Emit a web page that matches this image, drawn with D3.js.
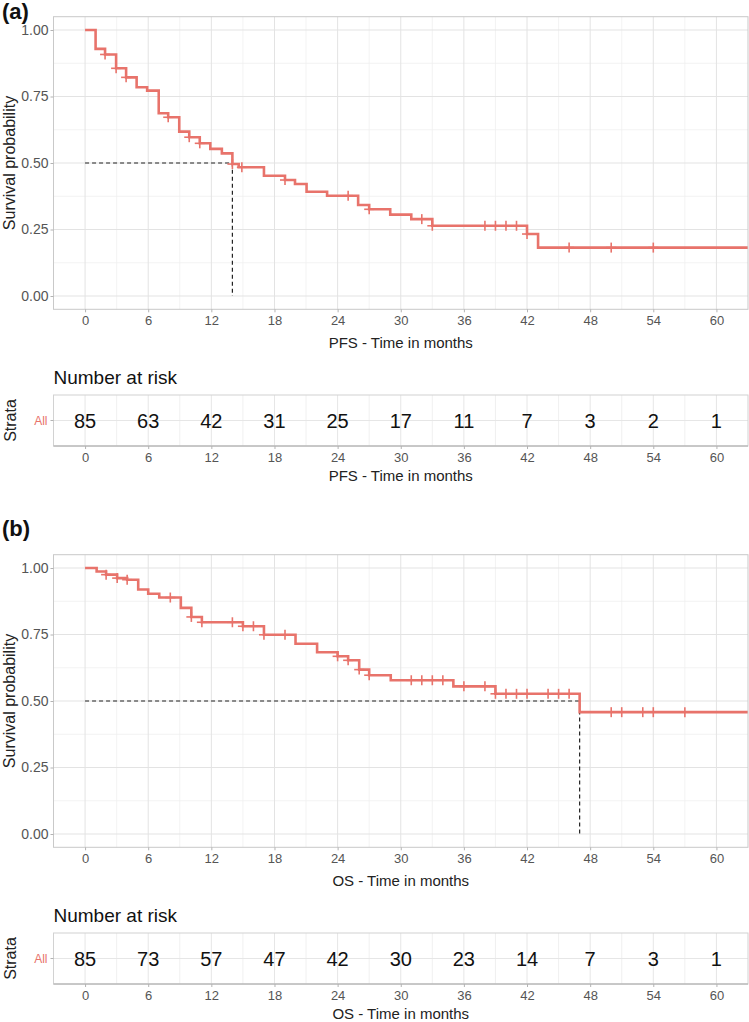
<!DOCTYPE html>
<html>
<head>
<meta charset="utf-8">
<script src="https://cdnjs.cloudflare.com/ajax/libs/d3/7.8.5/d3.min.js"></script>
<style>
	body { margin: 0; background: #fff; }
	svg { display: block; font-family: "Liberation Sans", Arial, sans-serif; }
</style>
</head>
<body>
<script>
/* Kaplan-Meier curves with number at risk tables
*  (a) PFS, (b) OS
*/

// (a) PFS - step times and survival after each step
var pfsTimes = [0, 1.0, 1.9, 2.95, 3.9, 4.9, 5.9, 7.0, 7.9, 8.95, 9.9, 10.9, 11.9, 13.0, 14.0, 14.6,
	17.0, 19.0, 19.95, 21.05, 23.0, 25.95, 27.0, 29.0, 31.0, 33.0, 42.0, 43.05];
var pfsSurv = [1.0, 0.929, 0.908, 0.856, 0.822, 0.785, 0.772, 0.687, 0.672, 0.618, 0.597, 0.574, 0.553, 0.536, 0.496, 0.484,
	0.452, 0.436, 0.421, 0.392, 0.377, 0.342, 0.326, 0.306, 0.289, 0.264, 0.233, 0.182];
var pfsCensor = [1.9, 2.95, 3.9, 7.9, 9.9, 10.9, 14.0, 14.9, 19.0, 25.0, 27.0, 32.0, 33.0,
	38, 39, 40, 41, 42.0, 46, 50, 54];
var pfsMedian = 14.0;
var pfsRisk = [85, 63, 42, 31, 25, 17, 11, 7, 3, 2, 1];

// (b) OS
var osTimes = [0, 1.1, 2.0, 3.05, 4.0, 5.05, 6.0, 7.05, 9.1, 10.1, 11.1, 15.0, 17.0, 20.0, 22.05,
	24.0, 25.0, 26.05, 27.0, 29.05, 35.0, 39.0, 47.0];
var osSurv = [1.0, 0.987, 0.975, 0.962, 0.956, 0.919, 0.903, 0.889, 0.850, 0.816, 0.796, 0.781, 0.749, 0.715, 0.683,
	0.668, 0.653, 0.618, 0.597, 0.578, 0.555, 0.527, 0.458];
var osCensor = [2.0, 3.05, 4.0, 8.1, 10.1, 11.1, 14.0, 15.0, 16.0, 17.0, 19.0, 24.0, 25.0, 26.05, 27.0,
	31, 32, 33, 34, 36, 38, 39.0, 40, 41, 42, 44, 45, 46, 50, 51, 53, 54, 57];
var osMedian = 47.0;
var osRisk = [85, 73, 57, 47, 42, 30, 23, 14, 7, 3, 1];

// axis breaks
var timeTicks = [0, 6, 12, 18, 24, 30, 36, 42, 48, 54, 60];
var timeMinor = [3, 9, 15, 21, 27, 33, 39, 45, 51, 57];
var survTicks = [0, 0.25, 0.5, 0.75, 1];
var survMinor = [0.125, 0.375, 0.625, 0.875];

var curveColor = "#e8736b";
var left = 53.5, right = 748;

var svg = d3.select("body")
	.append("svg")
	.attr("width", 749)
	.attr("height", 1022);

var xScale = d3.scaleLinear()
	.domain([-3, 63])
	.range([left, right]);

makePanel(16.7, "(a)", 19, "PFS - Time in months", pfsTimes, pfsSurv, pfsCensor, pfsMedian, pfsRisk, "a");
makePanel(554.7, "(b)", 536, "OS - Time in months", osTimes, osSurv, osCensor, osMedian, osRisk, "b");

function survAt(times, surv, t) {
	var i = d3.bisectRight(times, t) - 1;
	return surv[Math.max(i, 0)];
}

function makePanel(top, tag, tagY, xTitle, times, surv, censor, median, risk, id) {

	var h = 292.6;
	var yScale = d3.scaleLinear()
		.domain([-0.05, 1.05])
		.range([top + h, top]);

	var g = svg.append("g");

	// panel tag
	svg.append("text")
		.attr("x", 2)
		.attr("y", tagY)
		.style("font-size", "22px")
		.style("font-weight", "bold")
		.style("fill", "#111")
		.text(tag);

	// grid lines
	g.selectAll(".vminor")
		.data(timeMinor).enter().append("line")
		.attr("x1", function(d) { return xScale(d); })
		.attr("x2", function(d) { return xScale(d); })
		.attr("y1", top).attr("y2", top + h)
		.attr("stroke", "#f0f0f0").attr("stroke-width", 0.8);
	g.selectAll(".hminor")
		.data(survMinor).enter().append("line")
		.attr("x1", left).attr("x2", right)
		.attr("y1", function(d) { return yScale(d); })
		.attr("y2", function(d) { return yScale(d); })
		.attr("stroke", "#f0f0f0").attr("stroke-width", 0.8);
	g.selectAll(".vmajor")
		.data(timeTicks).enter().append("line")
		.attr("x1", function(d) { return xScale(d); })
		.attr("x2", function(d) { return xScale(d); })
		.attr("y1", top).attr("y2", top + h)
		.attr("stroke", "#e3e3e3").attr("stroke-width", 1);
	g.selectAll(".hmajor")
		.data(survTicks).enter().append("line")
		.attr("x1", left).attr("x2", right)
		.attr("y1", function(d) { return yScale(d); })
		.attr("y2", function(d) { return yScale(d); })
		.attr("stroke", "#e3e3e3").attr("stroke-width", 1);

	// median lines
	g.append("path")
		.attr("d", "M" + xScale(0) + "," + yScale(0.5) + "H" + xScale(median) + "V" + yScale(0))
		.attr("fill", "none")
		.attr("stroke", "#222")
		.attr("stroke-width", 1.2)
		.attr("stroke-dasharray", "4,3");

	// clip to the panel
	svg.append("clipPath").attr("id", "clip" + id)
		.append("rect")
		.attr("x", left).attr("y", top)
		.attr("width", right - left).attr("height", h);

	var points = times.map(function(t, i) { return [t, surv[i]]; });
	points.push([63, surv[surv.length - 1]]);

	var line = d3.line()
		.x(function(d) { return xScale(d[0]); })
		.y(function(d) { return yScale(d[1]); })
		.curve(d3.curveStepAfter);

	g.append("path")
		.datum(points)
		.attr("clip-path", "url(#clip" + id + ")")
		.attr("d", line)
		.attr("fill", "none")
		.attr("stroke", curveColor)
		.attr("stroke-width", 2.6);

	// censor marks
	var marks = g.selectAll(".censor")
		.data(censor).enter().append("g")
		.attr("transform", function(d) {
			return "translate(" + xScale(d) + "," + yScale(survAt(times, surv, d)) + ")";
		});
	marks.append("line").attr("x1", -5).attr("x2", 5)
		.attr("stroke", curveColor).attr("stroke-width", 1.6);
	marks.append("line").attr("y1", -5).attr("y2", 5)
		.attr("stroke", curveColor).attr("stroke-width", 1.6);

	// panel border
	g.append("rect")
		.attr("x", left).attr("y", top)
		.attr("width", right - left).attr("height", h)
		.attr("fill", "none")
		.attr("stroke", "#c9c9c9")
		.attr("stroke-width", 1);

	// y axis
	var yAxis = g.append("g")
		.attr("transform", "translate(" + left + ",0)")
		.call(d3.axisLeft(yScale).tickValues(survTicks).tickFormat(d3.format(".2f")).tickSize(3).tickPadding(2));
	styleAxis(yAxis, 14);

	// x axis
	var xAxis = g.append("g")
		.attr("transform", "translate(0," + (top + h) + ")")
		.call(d3.axisBottom(xScale).tickValues(timeTicks).tickSize(3).tickPadding(3));
	styleAxis(xAxis, 13);

	svg.append("text")
		.attr("transform", "translate(9," + yScale(0.5) + ") rotate(-90)")
		.attr("dominant-baseline", "central")
		.style("text-anchor", "middle")
		.style("font-size", "16px")
		.style("fill", "#222")
		.text("Survival probability");

	svg.append("text")
		.attr("x", (left + right) / 2)
		.attr("y", top + 325.3)
		.attr("dominant-baseline", "central")
		.style("text-anchor", "middle")
		.style("font-size", "15px")
		.style("fill", "#222")
		.text(xTitle);

	// number at risk table
	var tTop = top + 378.3, tBot = top + 429.3, tMid = (tTop + tBot) / 2;

	svg.append("text")
		.attr("x", left)
		.attr("y", top + 360.3)
		.attr("dominant-baseline", "central")
		.style("font-size", "19px")
		.style("fill", "#111")
		.text("Number at risk");

	var tg = svg.append("g");

	tg.selectAll(".tminor")
		.data(timeMinor).enter().append("line")
		.attr("x1", function(d) { return xScale(d); })
		.attr("x2", function(d) { return xScale(d); })
		.attr("y1", tTop).attr("y2", tBot)
		.attr("stroke", "#ececec").attr("stroke-width", 0.8);
	tg.selectAll(".tmajor")
		.data(timeTicks).enter().append("line")
		.attr("x1", function(d) { return xScale(d); })
		.attr("x2", function(d) { return xScale(d); })
		.attr("y1", tTop).attr("y2", tBot)
		.attr("stroke", "#e6e6e6").attr("stroke-width", 1);
	tg.append("line")
		.attr("x1", left).attr("x2", right)
		.attr("y1", tMid).attr("y2", tMid)
		.attr("stroke", "#e6e6e6").attr("stroke-width", 1);

	tg.append("rect")
		.attr("x", left).attr("y", tTop)
		.attr("width", right - left).attr("height", tBot - tTop)
		.attr("fill", "none")
		.attr("stroke", "#d2d2d2")
		.attr("stroke-width", 1);
	tg.append("line")
		.attr("x1", left).attr("x2", right)
		.attr("y1", tBot).attr("y2", tBot)
		.attr("stroke", "#bdbdbd").attr("stroke-width", 1.6);

	tg.selectAll(".risk")
		.data(risk).enter().append("text")
		.attr("x", function(d, i) { return xScale(timeTicks[i]); })
		.attr("y", tMid)
		.attr("dominant-baseline", "central")
		.style("text-anchor", "middle")
		.style("font-size", "20px")
		.style("fill", "#111")
		.text(function(d) { return d; });

	// strata axis
	tg.append("line")
		.attr("x1", left - 3).attr("x2", left)
		.attr("y1", tMid).attr("y2", tMid)
		.attr("stroke", "#b3b3b3");
	tg.append("text")
		.attr("x", left - 6)
		.attr("y", tMid)
		.attr("dominant-baseline", "central")
		.style("text-anchor", "end")
		.style("font-size", "12px")
		.style("fill", curveColor)
		.text("All");
	tg.append("text")
		.attr("transform", "translate(10," + tMid + ") rotate(-90)")
		.attr("dominant-baseline", "central")
		.style("text-anchor", "middle")
		.style("font-size", "16px")
		.style("fill", "#222")
		.text("Strata");

	var rAxis = tg.append("g")
		.attr("transform", "translate(0," + tBot + ")")
		.call(d3.axisBottom(xScale).tickValues(timeTicks).tickSize(3).tickPadding(4));
	styleAxis(rAxis, 13);

	tg.append("text")
		.attr("x", (left + right) / 2)
		.attr("y", top + 458.5)
		.attr("dominant-baseline", "central")
		.style("text-anchor", "middle")
		.style("font-size", "15px")
		.style("fill", "#222")
		.text(xTitle);
}

function styleAxis(axis, size) {
	axis.select(".domain").remove();
	axis.selectAll(".tick line").attr("stroke", "#b3b3b3");
	axis.selectAll(".tick text")
		.style("font-size", size + "px")
		.style("font-family", "Liberation Sans, Arial, sans-serif")
		.style("fill", "#555");
}
</script>
</body>
</html>
